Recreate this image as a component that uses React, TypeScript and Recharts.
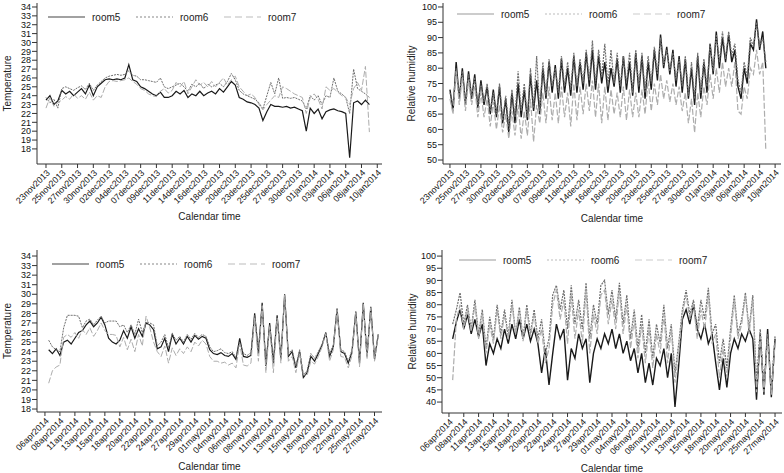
import React from "react"
import { Line, LineChart, XAxis, YAxis } from "recharts"

// tick labels along the calendar axis (Stata spaces them evenly)
const decLabels = [
  "23nov2013", "25nov2013", "27nov2013", "30nov2013", "02dec2013", "04dec2013", "07dec2013",
  "09dec2013", "11dec2013", "14dec2013", "16dec2013", "18dec2013", "20dec2013", "23dec2013",
  "25dec2013", "27dec2013", "30dec2013", "01jan2014", "03jan2014", "06jan2014", "08jan2014", "10jan2014",
]
const aprLabels = [
  "06apr2014", "08apr2014", "11apr2014", "13apr2014", "15apr2014", "18apr2014", "20apr2014",
  "22apr2014", "24apr2014", "27apr2014", "29apr2014", "01may2014", "04may2014", "06may2014",
  "08may2014", "11may2014", "13may2014", "15may2014", "18may2014", "20may2014", "22may2014",
  "25may2014", "27may2014",
]

const tempTicks = [18, 19, 20, 21, 22, 23, 24, 25, 26, 27, 28, 29, 30, 31, 32, 33, 34]
const humTicksTop = [50, 55, 60, 65, 70, 75, 80, 85, 90, 95, 100]
const humTicksBottom = [40, 45, 50, 55, 60, 65, 70, 75, 80, 85, 90, 95, 100]

// winter temperature, sampled every 1/4 tick from 23nov2013
const winterTempStart = 0
const winterTempStep = 0.25
const winterTemp5 = [
  23.5, 24.0, 23.0, 23.4, 24.6, 24.2, 24.5, 24.0, 24.4, 24.8, 24.2, 25.2,
  24.0, 25.0, 25.4, 25.8, 25.9, 25.8, 25.9, 25.8, 26.0, 27.5, 25.8, 25.6,
  25.0, 24.8, 24.5, 24.2, 24.0, 24.4, 23.8, 23.8, 24.0, 24.5, 24.2, 24.6,
  23.8, 24.2, 24.0, 24.5, 24.0, 24.3, 24.5, 24.2, 24.8, 24.4, 25.0, 25.6,
  25.2, 23.8, 23.6, 23.3, 23.2, 23.0, 22.6, 21.2, 22.2, 23.0, 22.8, 22.8,
  22.7, 22.8, 22.6, 22.7, 22.5, 22.3, 20.0, 22.6, 22.0, 22.5, 21.4, 22.2,
  22.4, 22.5, 22.3, 22.2, 22.0, 17.0, 23.2, 23.4, 23.0, 23.5, 23.0,
]
const winterTemp6 = [
  23.8, 23.2, 23.6, 22.6, 24.8, 25.0, 24.8, 24.6, 24.9, 25.1, 24.7, 25.4,
  24.6, 25.2, 25.6, 26.0, 26.2, 26.3, 26.4, 26.3, 26.4, 26.8, 26.3, 26.2,
  25.8, 25.8, 25.7, 25.6, 25.5, 26.0, 25.0, 24.8, 25.0, 25.2, 25.4, 25.0,
  24.5, 25.3, 25.0, 25.4, 24.8, 25.3, 25.0, 25.2, 25.4, 25.0, 25.6, 26.5,
  25.8, 24.6, 24.2, 24.0, 23.8, 23.6, 23.2, 22.5, 24.0, 25.5, 24.2, 26.0,
  23.7, 23.8, 23.7, 23.8, 23.6, 23.4, 22.5, 24.0, 23.5, 24.0, 23.0, 24.0,
  23.8, 26.0, 24.5, 24.2, 23.8, 22.0, 27.0, 24.8, 24.5, 24.2, 23.8,
]
const winterTemp7 = [
  22.6, 23.8, 22.8, 23.2, 23.5, 23.9, 23.6, 24.2, 23.7, 24.0, 23.6, 24.4,
  23.5, 24.0, 23.8, 25.0, 25.6, 25.7, 25.6, 25.7, 25.8, 26.0, 25.6, 25.3,
  24.8, 24.6, 24.2, 24.0, 23.9, 24.5, 24.8, 24.3, 24.6, 25.5, 25.0, 25.6,
  24.2, 25.0, 25.8, 25.2, 25.5, 25.0, 25.6, 25.0, 25.5, 26.0, 25.2, 25.8,
  26.2, 25.0, 24.5, 24.0, 24.2, 23.8, 23.0, 22.4, 23.0, 23.5, 24.0, 23.8,
  25.0, 24.8, 24.5, 24.2, 24.0, 23.8, 22.0, 23.8, 24.2, 23.6, 22.5, 25.0,
  24.6, 24.8, 24.4, 24.0, 23.8, 23.0, 24.8, 25.5, 24.6, 27.3, 19.9,
]

// winter humidity, sampled every 1/5 tick from 23nov2013
const winterHumStart = 0
const winterHumStep = 0.2
const winterHum5 = [
  73, 66, 82, 70, 80, 68, 79, 70, 78, 67, 76, 68, 74, 65, 73, 64, 74, 62, 70, 59,
  72, 62, 75, 64, 73, 63, 78, 66, 76, 65, 80, 70, 82, 72, 81, 70, 83, 72, 80, 71,
  84, 72, 82, 73, 85, 74, 86, 73, 84, 75, 82, 72, 80, 74, 83, 72, 84, 73, 82, 71,
  85, 72, 84, 70, 82, 73, 86, 76, 91, 80, 87, 78, 86, 74, 84, 72, 83, 70, 80, 68,
  84, 70, 82, 72, 88, 78, 92, 80, 90, 82, 91, 82, 86, 74, 70, 80, 75, 88, 86, 96,
  86, 92, 80,
]
const winterHum6 = [
  72, 68, 80, 71, 79, 69, 78, 71, 77, 68, 75, 69, 75, 66, 72, 65, 75, 63, 71, 61,
  73, 64, 79, 66, 75, 64, 80, 67, 84, 66, 82, 71, 83, 74, 80, 72, 84, 74, 82, 73,
  85, 74, 83, 75, 86, 76, 89, 75, 86, 77, 88, 74, 86, 75, 85, 74, 84, 75, 85, 72,
  86, 74, 85, 72, 84, 75, 87, 78, 90, 81, 86, 79, 85, 76, 83, 74, 84, 71, 82, 70,
  85, 72, 83, 74, 88, 79, 91, 82, 92, 83, 92, 84, 88, 76, 72, 82, 77, 90, 87, 95,
  87, 90, 82,
]
const winterHum7 = [
  70, 65, 79, 68, 77, 66, 76, 68, 74, 64, 72, 64, 70, 61, 69, 60, 68, 59, 65, 57,
  66, 58, 68, 57, 66, 58, 70, 56, 68, 62, 72, 62, 74, 63, 72, 62, 74, 64, 72, 61,
  75, 63, 74, 65, 75, 66, 76, 64, 75, 62, 74, 63, 73, 65, 72, 64, 74, 63, 73, 64,
  72, 64, 73, 65, 76, 66, 75, 68, 78, 70, 76, 69, 75, 68, 74, 66, 72, 62, 70, 59,
  72, 64, 74, 68, 78, 70, 80, 72, 82, 74, 80, 74, 82, 66, 65, 74, 70, 80, 78, 86,
  78, 82, 53,
]

// spring temperature, sampled every 1/4 tick from just after 06apr2014
const springTempStart = 0.25
const springTempStep = 0.25
const springTemp5 = [
  24.2, 23.8, 24.3, 23.6, 25.0, 25.2, 24.8, 25.4, 26.0, 26.2, 26.8, 27.2,
  26.6, 27.0, 27.6, 26.8, 25.4, 25.0, 24.8, 25.2, 26.2, 25.4, 26.6, 25.4,
  26.4, 25.6, 27.0, 26.8, 26.3, 24.3, 24.5, 25.4, 24.0, 25.8, 24.8, 25.4,
  24.8, 25.6, 25.0, 25.7, 25.3, 25.6, 25.4, 24.2, 23.8, 23.7, 23.9, 23.6,
  23.5, 23.8, 23.2, 25.4, 23.5, 23.4, 23.6, 28.0, 23.8, 29.1, 22.5, 27.0,
  22.8, 27.8, 23.2, 30.0, 23.5, 24.0, 22.3, 24.0, 21.3, 21.8, 23.5, 23.0,
  23.8, 24.7, 26.0, 23.5, 24.5, 28.5, 24.0, 23.8, 22.8, 24.0, 28.2, 22.8,
  29.1, 23.5, 28.7, 23.2, 25.8,
]
const springTemp6 = [
  25.2, 24.5, 24.2, 24.0, 26.5, 27.8, 27.8, 27.8, 27.7, 26.5, 27.2, 27.4,
  26.8, 27.3, 27.7, 27.0, 27.2, 27.2, 27.2, 26.6, 26.8, 26.0, 26.8, 25.8,
  27.4, 26.0, 27.1, 27.0, 26.8, 24.6, 25.0, 25.8, 24.4, 25.9, 25.2, 25.6,
  25.0, 25.8, 25.3, 25.9, 25.5, 25.8, 25.6, 24.5, 24.0, 24.1, 24.3, 23.9,
  23.8, 24.0, 23.4, 25.0, 23.8, 23.6, 23.9, 27.8, 24.2, 28.9, 22.8, 26.8,
  23.0, 27.6, 23.5, 29.8, 23.8, 24.2, 22.5, 24.2, 21.6, 22.0, 23.8, 23.3,
  24.0, 24.8, 25.8, 23.8, 24.7, 28.3, 24.2, 24.0, 23.0, 24.2, 28.0, 23.0,
  29.0, 23.7, 28.5, 23.4, 25.7,
]
const springTemp7 = [
  20.7, 22.0, 22.4, 22.6, 25.5, 25.8, 25.5, 26.0, 25.4, 26.3, 25.8, 26.5,
  25.6, 26.2, 27.0, 26.2, 25.8, 25.8, 25.7, 24.5, 25.5, 24.2, 25.3, 24.0,
  25.8, 24.6, 27.7, 26.5, 25.0, 24.0, 23.5, 24.6, 22.8, 24.4, 23.6, 24.3,
  23.8, 24.5, 24.0, 25.0, 24.6, 25.2, 24.8, 23.5, 23.0, 23.0, 22.8, 22.9,
  22.6, 22.8, 22.3, 24.8, 22.6, 22.5, 22.8, 27.6, 23.0, 28.8, 21.8, 26.6,
  21.8, 27.5, 22.8, 29.9, 23.0, 23.5, 21.8, 23.8, 21.6, 21.5, 23.0, 22.7,
  23.5, 24.5, 25.9, 23.0, 24.2, 28.4, 23.5, 23.4, 22.3, 23.6, 28.1, 22.4,
  29.0, 23.2, 28.6, 23.0, 25.8,
]

// spring humidity, sampled every 1/4 tick from just after 06apr2014
const springHumStart = 0.25
const springHumStep = 0.25
const springHum5 = [
  66, 73, 78, 70, 76, 68, 74, 67, 72, 55, 64, 60, 66, 62, 70, 64, 72, 66, 74, 66,
  72, 65, 70, 64, 52, 62, 47, 60, 72, 66, 70, 49, 62, 58, 68, 62, 66, 48, 60, 66,
  62, 68, 64, 70, 62, 68, 60, 65, 57, 62, 52, 60, 48, 56, 47, 58, 55, 62, 50, 60,
  38, 55, 74, 78, 72, 80, 70, 66, 72, 64, 68, 56, 45, 58, 46, 60, 66, 62, 68, 65,
  70, 66, 41, 68, 43, 70, 42, 66,
]
const springHum6 = [
  72, 78, 85, 72, 80, 70, 82, 68, 78, 62, 75, 66, 80, 68, 78, 67, 82, 68, 79, 66,
  80, 68, 78, 66, 74, 60, 66, 84, 88, 78, 86, 70, 88, 72, 82, 70, 89, 66, 80, 72,
  88, 90, 76, 86, 74, 89, 72, 84, 66, 78, 62, 76, 60, 74, 58, 72, 64, 80, 62, 72,
  52, 64, 78, 86, 76, 82, 70, 82, 74, 87, 68, 72, 56, 66, 54, 70, 84, 68, 74, 85,
  70, 84, 48, 70, 46, 68, 45, 67,
]
const springHum7 = [
  49, 74, 80, 70, 78, 69, 80, 66, 76, 60, 72, 64, 78, 66, 76, 66, 80, 68, 77, 65,
  78, 67, 76, 64, 70, 56, 62, 80, 86, 74, 82, 64, 84, 66, 78, 64, 86, 60, 76, 68,
  84, 86, 72, 82, 70, 86, 68, 80, 62, 74, 58, 72, 56, 70, 54, 68, 60, 76, 56, 70,
  48, 60, 76, 84, 74, 80, 66, 78, 70, 84, 64, 68, 50, 62, 50, 66, 82, 66, 72, 84,
  68, 82, 44, 67, 44, 66, 43, 64,
]

function buildRows(start: number, step: number, r5: number[], r6: number[], r7: number[]) {
  return r5.map((v, i) => ({ x: start + i * step, room5: v, room6: r6[i], room7: r7[i] }))
}

const FONT = "'Liberation Sans', Arial, Helvetica, sans-serif"

type PanelProps = {
  left: number
  top: number
  width: number
  height: number
  margin: { top: number; right: number; left: number; bottom: number }
  yAxisWidth: number
  xAxisHeight: number
  xDomain: [number, number]
  yDomain: [number, number]
  yTicks: number[]
  xLabels: string[]
  yTitle: string
  yTitleOffset: number
  xTitleOffset: number
  rows: { x: number; room5: number; room6: number; room7: number }[]
  legendX: number
  legendY: number
  legendShades: string[]
  lineWidth: number
}

function LegendRow({ x, y, shades }: { x: number; y: number; shades: string[] }) {
  const items = [
    { name: "room5", dash: undefined },
    { name: "room6", dash: "2 2" },
    { name: "room7", dash: "7 4" },
  ]
  return (
    <svg style={{ position: "absolute", left: x, top: y - 8, overflow: "visible" }} width={270} height={16}>
      {items.map((it, i) => (
        <g key={it.name} transform={`translate(${i * 88},8)`}>
          <line x1={0} x2={37} y1={0} y2={0} stroke={shades[i]} strokeWidth={1.2} strokeDasharray={it.dash} />
          <text x={44} y={3.5} fontSize={10} fill="#222" fontFamily={FONT}>
            {it.name}
          </text>
        </g>
      ))}
    </svg>
  )
}

function Panel(p: PanelProps) {
  const xTicks = p.xLabels.map((_, i) => i)
  return (
    <>
      <div style={{ position: "absolute", left: p.left, top: p.top }}>
        <LineChart width={p.width} height={p.height} data={p.rows} margin={p.margin}>
          <XAxis
            dataKey="x"
            type="number"
            domain={p.xDomain}
            allowDataOverflow
            ticks={xTicks}
            interval={0}
            tickFormatter={(v: number) => p.xLabels[v] ?? ""}
            angle={-45}
            textAnchor="end"
            height={p.xAxisHeight}
            tickSize={4}
            tickMargin={1}
            stroke="#333"
            tick={{ fontSize: 8.8, fill: "#111", fontFamily: FONT }}
            label={{ value: "Calendar time", position: "insideBottom", offset: p.xTitleOffset, fontSize: 10, fill: "#222", fontFamily: FONT }}
          />
          <YAxis
            type="number"
            domain={p.yDomain}
            allowDataOverflow
            ticks={p.yTicks}
            interval={0}
            width={p.yAxisWidth}
            tickSize={5}
            tickMargin={1}
            stroke="#333"
            tick={{ fontSize: 9, fill: "#111", fontFamily: FONT }}
            label={{
              value: p.yTitle,
              angle: -90,
              position: "insideLeft",
              offset: p.yTitleOffset,
              fontSize: 10,
              fill: "#222",
              fontFamily: FONT,
              style: { textAnchor: "middle" },
            }}
          />
          <Line type="linear" dataKey="room5" stroke="#1a1a1a" strokeWidth={p.lineWidth + 0.2} dot={false} isAnimationActive={false} />
          <Line type="linear" dataKey="room6" stroke="#6e6e6e" strokeWidth={p.lineWidth} strokeDasharray="2 1" dot={false} isAnimationActive={false} />
          <Line type="linear" dataKey="room7" stroke="#adadad" strokeWidth={p.lineWidth} strokeDasharray="6 2" dot={false} isAnimationActive={false} />
        </LineChart>
      </div>
      <LegendRow x={p.legendX} y={p.legendY} shades={p.legendShades} />
    </>
  )
}

export default function App() {
  return (
    <div style={{ position: "absolute", left: 0, top: 0, width: 784, height: 473, background: "#fff", overflow: "hidden", fontFamily: FONT }}>
      <Panel
        left={0}
        top={0}
        width={392}
        height={236}
        margin={{ top: 3, right: 10, left: 0, bottom: 0 }}
        yAxisWidth={37}
        xAxisHeight={72}
        xDomain={[-0.57, 21.3]}
        yDomain={[16.3, 34.45]}
        yTicks={tempTicks}
        xLabels={decLabels}
        yTitle="Temperature"
        yTitleOffset={7}
        xTitleOffset={16}
        rows={buildRows(winterTempStart, winterTempStep, winterTemp5, winterTemp6, winterTemp7)}
        legendX={48}
        legendY={17}
        legendShades={["#444", "#888", "#bbb"]}
        lineWidth={1}
      />
      <Panel
        left={392}
        top={0}
        width={392}
        height={236}
        margin={{ top: 3, right: 3, left: 0, bottom: 0 }}
        yAxisWidth={51}
        xAxisHeight={72}
        xDomain={[-0.45, 21.38]}
        yDomain={[48.7, 101.3]}
        yTicks={humTicksTop}
        xLabels={decLabels}
        yTitle="Relative humidity"
        yTitleOffset={19}
        xTitleOffset={14}
        rows={buildRows(winterHumStart, winterHumStep, winterHum5, winterHum6, winterHum7)}
        legendX={457}
        legendY={14}
        legendShades={["#999", "#bbb", "#ccc"]}
        lineWidth={1.2}
      />
      <Panel
        left={0}
        top={236}
        width={392}
        height={237}
        margin={{ top: 14, right: 10, left: 0, bottom: 0 }}
        yAxisWidth={37}
        xAxisHeight={61}
        xDomain={[-0.53, 22.5]}
        yDomain={[17.69, 34.63]}
        yTicks={tempTicks}
        xLabels={aprLabels}
        yTitle="Temperature"
        yTitleOffset={7}
        xTitleOffset={3}
        rows={buildRows(springTempStart, springTempStep, springTemp5, springTemp6, springTemp7)}
        legendX={52}
        legendY={264}
        legendShades={["#444", "#888", "#bbb"]}
        lineWidth={1}
      />
      <Panel
        left={392}
        top={236}
        width={392}
        height={237}
        margin={{ top: 14, right: 2, left: 0, bottom: 0 }}
        yAxisWidth={50}
        xAxisHeight={60}
        xDomain={[-0.47, 22.47]}
        yDomain={[35.5, 102.5]}
        yTicks={humTicksBottom}
        xLabels={aprLabels}
        yTitle="Relative humidity"
        yTitleOffset={20}
        xTitleOffset={1}
        rows={buildRows(springHumStart, springHumStep, springHum5, springHum6, springHum7)}
        legendX={459}
        legendY={260}
        legendShades={["#999", "#bbb", "#ccc"]}
        lineWidth={1.2}
      />
    </div>
  )
}
